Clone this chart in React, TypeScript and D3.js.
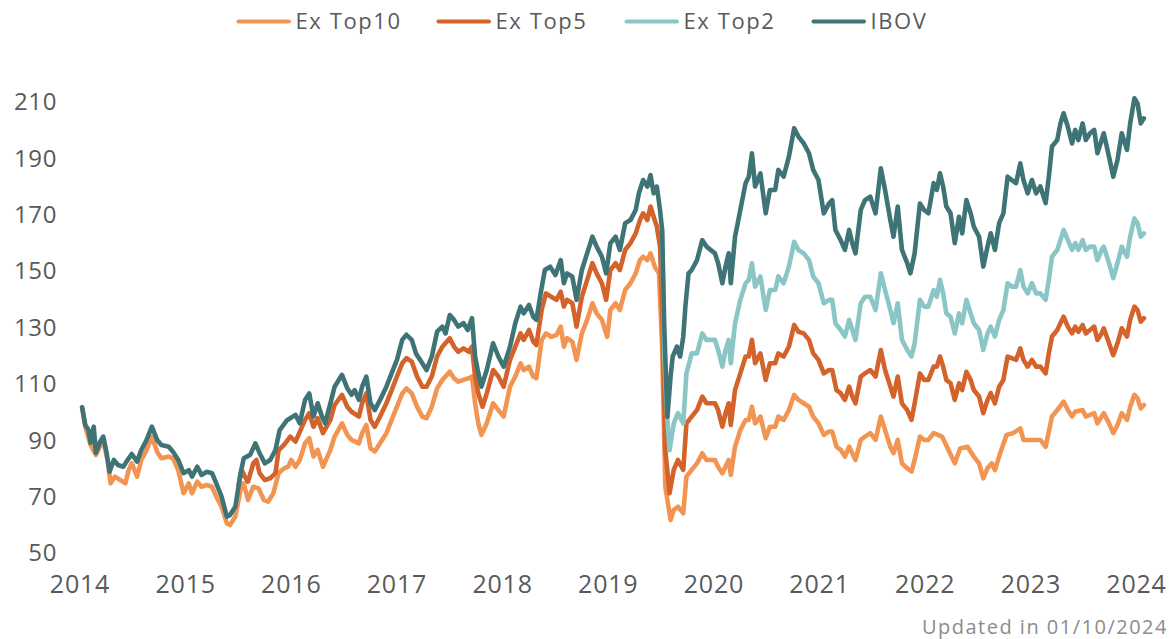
import React, { useEffect } from "react";
import * as d3 from "d3";

// Ex Top10 / Ex Top5 / Ex Top2 / IBOV, base 100
const seriesNames = ["Ex Top10", "Ex Top5", "Ex Top2", "IBOV"];
const seriesColors = ["#F39552", "#D4622B", "#8AC6C5", "#3F7476"];
const yearTicks = [2014, 2015, 2016, 2017, 2018, 2019, 2020, 2021, 2022, 2023, 2024];
const valueTicks = [50, 70, 90, 110, 130, 150, 170, 190, 210];
const updatedNote = "Updated in 01/10/2024";

type Pt = [number, number];

const ibov: Pt[] = [
  [2014.02, 101.6], [2014.05, 95.3], [2014.08, 93.5], [2014.1, 89], [2014.13, 94.7], [2014.15, 85.4],
  [2014.19, 89.4], [2014.22, 91.2], [2014.25, 85.8], [2014.28, 78.7], [2014.32, 82.9], [2014.36, 81.1],
  [2014.41, 80.5], [2014.44, 82.3], [2014.49, 85], [2014.54, 82.3], [2014.58, 86.4], [2014.63, 90],
  [2014.68, 94.7], [2014.73, 90], [2014.77, 88.2], [2014.84, 87.6], [2014.88, 85.8], [2014.93, 82.9],
  [2014.98, 78.2], [2015.03, 79.3], [2015.06, 77], [2015.11, 80.5], [2015.15, 77.6], [2015.2, 78.7],
  [2015.25, 78.2], [2015.29, 74.6], [2015.34, 69.9], [2015.39, 62.8], [2015.42, 63.4], [2015.47, 66.3],
  [2015.52, 78.2], [2015.55, 83.5], [2015.61, 84.7], [2015.66, 88.8], [2015.7, 85.3], [2015.75, 81.7],
  [2015.8, 82.9], [2015.85, 86.4], [2015.89, 93.5], [2015.96, 97], [2016.04, 98.9], [2016.08, 95.9],
  [2016.13, 104.2], [2016.17, 106.5], [2016.21, 98.3], [2016.25, 103], [2016.29, 98.3], [2016.32, 95.9],
  [2016.37, 103], [2016.41, 108.9], [2016.48, 113.1], [2016.53, 108.3], [2016.57, 106], [2016.6, 107.7],
  [2016.64, 104.2], [2016.67, 108.9], [2016.71, 112.5], [2016.75, 103], [2016.79, 100.6], [2016.84, 104.2],
  [2016.9, 108.9], [2016.95, 113.7], [2017.0, 118.4], [2017.05, 125.5], [2017.09, 127.3], [2017.14, 125.5],
  [2017.18, 120.7], [2017.24, 117.2], [2017.28, 114.8], [2017.33, 119.6], [2017.38, 128.4], [2017.43, 130.2],
  [2017.46, 127.8], [2017.5, 134.3], [2017.54, 132.6], [2017.58, 130.2], [2017.63, 131.4], [2017.67, 129],
  [2017.71, 133.2], [2017.74, 119.6], [2017.77, 113.7], [2017.8, 108.9], [2017.85, 114.8], [2017.91, 124.3],
  [2017.96, 119.6], [2018.01, 116], [2018.07, 123.1], [2018.12, 131.4], [2018.17, 137.3], [2018.2, 134.9],
  [2018.25, 137.9], [2018.29, 133.7], [2018.32, 132.6], [2018.36, 142], [2018.4, 150.3], [2018.45, 151.5],
  [2018.5, 148.5], [2018.55, 153.8], [2018.58, 145.6], [2018.61, 149.1], [2018.66, 147.9], [2018.7, 139.7],
  [2018.75, 150.3], [2018.8, 156.2], [2018.85, 162.1], [2018.89, 158.6], [2018.94, 155], [2018.98, 149.1],
  [2019.02, 159.8], [2019.07, 162.1], [2019.11, 157.4], [2019.16, 166.9], [2019.21, 168], [2019.26, 171.6],
  [2019.29, 177.5], [2019.33, 182.2], [2019.37, 179.9], [2019.4, 184], [2019.43, 177.5], [2019.46, 179.9],
  [2019.49, 171.6], [2019.51, 164.5], [2019.53, 130.2], [2019.56, 98.2], [2019.59, 112.5], [2019.61, 119.6],
  [2019.65, 123.1], [2019.68, 119.6], [2019.71, 126.6], [2019.73, 137.3], [2019.76, 149.1], [2019.79, 150.3],
  [2019.84, 153.8], [2019.89, 160.9], [2019.93, 158.6], [2020.01, 156.2], [2020.04, 152.7], [2020.08, 145.6],
  [2020.11, 151.5], [2020.14, 156.2], [2020.16, 145.6], [2020.2, 162.1], [2020.25, 171.6], [2020.3, 181.1],
  [2020.33, 183.4], [2020.36, 191.7], [2020.39, 179.9], [2020.44, 184.6], [2020.49, 170.4], [2020.53, 178.7],
  [2020.58, 178.7], [2020.61, 185.8], [2020.66, 183.4], [2020.71, 190.5], [2020.76, 200.6], [2020.8, 197.6],
  [2020.85, 195.2], [2020.9, 191.7], [2020.94, 185.8], [2020.99, 182.2], [2021.04, 170.4], [2021.09, 173.9],
  [2021.12, 175.1], [2021.15, 164.5], [2021.2, 160.9], [2021.24, 157.4], [2021.28, 164.5], [2021.31, 159.8],
  [2021.34, 156.2], [2021.39, 171.6], [2021.43, 175.1], [2021.48, 176.3], [2021.53, 170.4], [2021.58, 186.4],
  [2021.62, 178.7], [2021.67, 168], [2021.7, 162.1], [2021.74, 172.8], [2021.78, 157.4], [2021.83, 152.7],
  [2021.86, 149.1], [2021.9, 156.2], [2021.95, 173.9], [2021.99, 171.6], [2022.03, 170.4], [2022.08, 181.1],
  [2022.11, 178.7], [2022.14, 184.6], [2022.17, 179.9], [2022.2, 172.8], [2022.24, 170.4], [2022.28, 159.8],
  [2022.32, 169.2], [2022.35, 163.3], [2022.39, 175.1], [2022.43, 170.4], [2022.46, 165.7], [2022.51, 162.1],
  [2022.55, 151.5], [2022.59, 158.6], [2022.62, 163.3], [2022.66, 157.4], [2022.7, 166.9], [2022.74, 170.4],
  [2022.78, 183.4], [2022.82, 182.2], [2022.86, 181.1], [2022.9, 188.1], [2022.93, 182.2], [2022.97, 177.5],
  [2023.01, 182.2], [2023.05, 177.5], [2023.09, 179.9], [2023.14, 174], [2023.17, 183.4], [2023.2, 194.1],
  [2023.25, 196.4], [2023.28, 202.3], [2023.31, 205.9], [2023.35, 201.1], [2023.39, 195.2], [2023.42, 200],
  [2023.45, 196.4], [2023.49, 202.3], [2023.52, 196.4], [2023.56, 198.8], [2023.6, 200], [2023.63, 191.7],
  [2023.67, 196.4], [2023.69, 198.8], [2023.74, 190.5], [2023.78, 183.4], [2023.82, 189.3], [2023.86, 198.8],
  [2023.91, 192.9], [2023.94, 202.3], [2023.98, 211.2], [2024.01, 209.4], [2024.04, 202.3], [2024.07, 204.1],
];

const exTop2: Pt[] = [
  [2019.51, 164.5], [2019.53, 120], [2019.56, 97.1], [2019.58, 86.4], [2019.62, 95.9], [2019.66, 99.5],
  [2019.71, 95.9], [2019.74, 113.6], [2019.79, 120.7], [2019.84, 120.7], [2019.89, 127.8], [2019.93, 125.5],
  [2020.01, 125.5], [2020.04, 121.9], [2020.08, 116], [2020.11, 121.9], [2020.14, 125.5], [2020.16, 117.2],
  [2020.2, 131.4], [2020.25, 139.7], [2020.3, 145.6], [2020.33, 146.8], [2020.36, 152.7], [2020.39, 144.4],
  [2020.44, 148], [2020.49, 136.1], [2020.53, 143.2], [2020.58, 143.2], [2020.61, 148], [2020.66, 145.6],
  [2020.71, 151.5], [2020.76, 160.3], [2020.8, 157.4], [2020.85, 156.2], [2020.9, 153.8], [2020.94, 148],
  [2020.99, 145.6], [2021.04, 138.5], [2021.09, 139.7], [2021.12, 139.7], [2021.15, 131.4], [2021.2, 129],
  [2021.24, 126.7], [2021.28, 132.6], [2021.31, 129], [2021.34, 125.5], [2021.39, 138.5], [2021.43, 140.8],
  [2021.48, 140.8], [2021.53, 136.1], [2021.58, 149.1], [2021.62, 143.2], [2021.67, 136.1], [2021.7, 131.4],
  [2021.74, 138.5], [2021.78, 125.5], [2021.83, 121.9], [2021.87, 119.6], [2021.9, 124.3], [2021.95, 139.7],
  [2021.99, 137.3], [2022.03, 137.3], [2022.08, 143.2], [2022.11, 140.8], [2022.14, 146.8], [2022.17, 142],
  [2022.2, 134.9], [2022.24, 133.7], [2022.28, 127.8], [2022.32, 134.9], [2022.35, 131.4], [2022.39, 139.7],
  [2022.43, 134.9], [2022.46, 131.4], [2022.51, 129], [2022.55, 121.9], [2022.59, 127.8], [2022.62, 130.2],
  [2022.66, 126.7], [2022.7, 132.6], [2022.74, 136.1], [2022.78, 145.6], [2022.82, 144.4], [2022.86, 144.4],
  [2022.9, 150.3], [2022.93, 144.4], [2022.97, 142], [2023.01, 145.6], [2023.05, 142], [2023.09, 142],
  [2023.14, 139.7], [2023.17, 146.8], [2023.2, 155], [2023.25, 157.4], [2023.28, 160.9], [2023.31, 164.5],
  [2023.35, 160.9], [2023.39, 157.4], [2023.42, 159.8], [2023.45, 157.4], [2023.49, 160.9], [2023.52, 157.4],
  [2023.56, 158.6], [2023.6, 158.6], [2023.63, 153.8], [2023.67, 157.4], [2023.69, 158.6], [2023.74, 152.7],
  [2023.78, 147.4], [2023.82, 152.7], [2023.86, 158.6], [2023.91, 155], [2023.94, 162.1], [2023.98, 168.6],
  [2024.01, 166.9], [2024.04, 162.1], [2024.07, 163.3],
];

const exTop5: Pt[] = [
  [2015.5, 74], [2015.53, 79.3], [2015.56, 77], [2015.59, 75.2], [2015.64, 81.7], [2015.67, 82.9],
  [2015.7, 78.2], [2015.75, 75.8], [2015.8, 76.4], [2015.85, 78.2], [2015.88, 86.4], [2015.93, 88.2],
  [2015.99, 91.2], [2016.04, 89.4], [2016.13, 97.1], [2016.17, 99.5], [2016.21, 94.7], [2016.25, 97.7],
  [2016.3, 92.4], [2016.37, 97.1], [2016.41, 102.4], [2016.48, 106], [2016.53, 101.8], [2016.57, 100],
  [2016.64, 98.3], [2016.67, 103], [2016.71, 106.5], [2016.75, 97.1], [2016.79, 94.7], [2016.84, 98.3],
  [2016.9, 103], [2016.95, 107.7], [2017.0, 112.5], [2017.05, 117.2], [2017.09, 119], [2017.14, 117.8],
  [2017.19, 112.5], [2017.24, 108.9], [2017.28, 108.9], [2017.33, 112.5], [2017.38, 119.6], [2017.43, 123.1],
  [2017.5, 126.1], [2017.54, 123.1], [2017.58, 121.3], [2017.63, 122.5], [2017.68, 121.3], [2017.71, 123.1],
  [2017.74, 112.5], [2017.77, 106.5], [2017.81, 101.8], [2017.85, 106.5], [2017.91, 114.8], [2017.96, 112.5],
  [2018.01, 108.9], [2018.07, 118.4], [2018.12, 123.1], [2018.17, 127.8], [2018.2, 125.5], [2018.25, 129],
  [2018.29, 124.9], [2018.32, 123.7], [2018.37, 136.1], [2018.41, 142], [2018.46, 140.8], [2018.51, 139.7],
  [2018.55, 142.6], [2018.58, 137.3], [2018.61, 139.7], [2018.66, 138.5], [2018.7, 130.2], [2018.75, 140.8],
  [2018.8, 146.7], [2018.85, 152.7], [2018.89, 149.1], [2018.94, 145.6], [2018.98, 139.7], [2019.02, 150.3],
  [2019.07, 152.7], [2019.11, 150.3], [2019.16, 157.4], [2019.21, 159.8], [2019.26, 163.3], [2019.3, 168],
  [2019.33, 170.4], [2019.37, 168], [2019.4, 172.8], [2019.44, 168], [2019.46, 165.7], [2019.49, 158.6],
  [2019.51, 136.1], [2019.54, 86.4], [2019.58, 71.1], [2019.62, 79.4], [2019.66, 82.9], [2019.71, 79.4],
  [2019.74, 95.9], [2019.79, 98.3], [2019.84, 100.6], [2019.89, 105.4], [2019.93, 103], [2020.01, 103],
  [2020.04, 100.6], [2020.08, 94.7], [2020.11, 99.5], [2020.14, 103], [2020.16, 95.3], [2020.2, 107.7],
  [2020.25, 113.6], [2020.3, 119.6], [2020.33, 119.6], [2020.36, 125.5], [2020.39, 117.2], [2020.44, 120.7],
  [2020.49, 111.3], [2020.53, 117.2], [2020.58, 117.2], [2020.61, 120.7], [2020.66, 119.6], [2020.71, 123.1],
  [2020.76, 130.8], [2020.8, 128.4], [2020.85, 127.8], [2020.9, 125.5], [2020.94, 120.7], [2020.99, 118.4],
  [2021.04, 113.6], [2021.09, 114.8], [2021.12, 114.8], [2021.16, 107.7], [2021.2, 106.6], [2021.24, 104.2],
  [2021.28, 108.9], [2021.31, 105.4], [2021.34, 103], [2021.39, 112.5], [2021.43, 113.6], [2021.48, 114.8],
  [2021.53, 112.5], [2021.58, 121.9], [2021.62, 114.8], [2021.67, 108.9], [2021.7, 105.4], [2021.74, 112.5],
  [2021.78, 103], [2021.83, 100.6], [2021.87, 97.1], [2021.9, 103], [2021.95, 113.6], [2021.99, 111.3],
  [2022.03, 111.3], [2022.08, 116], [2022.11, 116], [2022.14, 119.6], [2022.17, 116], [2022.2, 111.3],
  [2022.24, 110.1], [2022.28, 104.2], [2022.32, 110.1], [2022.35, 107.7], [2022.39, 114.2], [2022.43, 111.3],
  [2022.46, 107.7], [2022.51, 105.4], [2022.55, 99.5], [2022.59, 104.2], [2022.62, 106.6], [2022.66, 103],
  [2022.7, 108.9], [2022.74, 111.3], [2022.78, 119.6], [2022.82, 119], [2022.86, 118.4], [2022.9, 122.5],
  [2022.93, 118.4], [2022.97, 116], [2023.01, 118.4], [2023.05, 116], [2023.09, 116], [2023.14, 113.6],
  [2023.17, 120.7], [2023.2, 126.7], [2023.25, 129], [2023.28, 131.4], [2023.31, 133.7], [2023.35, 130.2],
  [2023.39, 127.8], [2023.42, 130.2], [2023.45, 128.4], [2023.49, 130.8], [2023.52, 127.8], [2023.56, 129],
  [2023.6, 130.2], [2023.63, 125.5], [2023.67, 127.8], [2023.69, 129.6], [2023.74, 124.3], [2023.78, 120.1],
  [2023.82, 124.3], [2023.86, 129.6], [2023.91, 126.7], [2023.94, 132.6], [2023.98, 137.3], [2024.01, 136.1],
  [2024.04, 132], [2024.07, 133.2],
];

const exTop10: Pt[] = [
  [2014.02, 101.6], [2014.05, 94.7], [2014.1, 88.2], [2014.15, 84.7], [2014.22, 90], [2014.26, 82.9],
  [2014.29, 74.6], [2014.33, 77], [2014.38, 75.8], [2014.43, 74.6], [2014.46, 79.3], [2014.49, 81.7],
  [2014.54, 77], [2014.58, 82.9], [2014.63, 86.4], [2014.68, 91.2], [2014.73, 85.8], [2014.77, 83.5],
  [2014.84, 84.1], [2014.88, 83.5], [2014.93, 79.3], [2014.98, 71.1], [2015.03, 74.6], [2015.06, 71.1],
  [2015.11, 75.2], [2015.15, 73.4], [2015.2, 74], [2015.25, 73.4], [2015.29, 69.9], [2015.34, 66.3],
  [2015.39, 60.4], [2015.42, 59.8], [2015.47, 62.8], [2015.52, 72.3], [2015.55, 74.6], [2015.59, 68.7],
  [2015.64, 73.4], [2015.69, 72.8], [2015.74, 68.7], [2015.78, 68.1], [2015.83, 71.1], [2015.88, 78.2],
  [2015.93, 79.9], [2015.97, 80.5], [2016.0, 82.9], [2016.04, 80.5], [2016.08, 82.9], [2016.13, 88.8],
  [2016.17, 90.6], [2016.21, 84.1], [2016.25, 86.5], [2016.3, 80.5], [2016.37, 86.5], [2016.41, 91.2],
  [2016.48, 95.9], [2016.53, 91.8], [2016.57, 90], [2016.64, 88.8], [2016.67, 92.4], [2016.71, 95.3],
  [2016.75, 87], [2016.79, 85.9], [2016.84, 88.8], [2016.9, 92.4], [2016.95, 97.1], [2017.0, 101.8],
  [2017.05, 106.5], [2017.09, 108.3], [2017.14, 106.5], [2017.19, 101.8], [2017.24, 98.3], [2017.28, 97.7],
  [2017.33, 101.8], [2017.38, 108.3], [2017.43, 111.3], [2017.5, 114.2], [2017.54, 111.9], [2017.58, 110.7],
  [2017.63, 111.3], [2017.68, 111.9], [2017.71, 112.5], [2017.74, 103], [2017.77, 95.9], [2017.8, 91.8],
  [2017.85, 95.9], [2017.91, 103], [2017.96, 100.6], [2018.01, 98.3], [2018.07, 108.9], [2018.12, 112.5],
  [2018.17, 117.2], [2018.2, 114.8], [2018.25, 116], [2018.29, 112.5], [2018.32, 111.9], [2018.37, 125.5],
  [2018.41, 127.8], [2018.46, 126.6], [2018.51, 127.2], [2018.55, 130.2], [2018.58, 123.1], [2018.61, 126.1],
  [2018.66, 124.9], [2018.7, 118.4], [2018.75, 127.8], [2018.8, 132.6], [2018.85, 138.5], [2018.89, 134.9],
  [2018.94, 132.6], [2018.99, 126.6], [2019.02, 136.1], [2019.07, 138.5], [2019.11, 136.1], [2019.16, 143.2],
  [2019.21, 145.6], [2019.26, 149.1], [2019.3, 153.8], [2019.33, 155], [2019.37, 153.8], [2019.4, 156.2],
  [2019.44, 151.5], [2019.48, 149.1], [2019.51, 123.1], [2019.54, 73.4], [2019.59, 61.6], [2019.62, 65.2],
  [2019.66, 66.3], [2019.71, 64], [2019.74, 77], [2019.79, 79.4], [2019.84, 81.7], [2019.89, 85.3],
  [2019.93, 82.9], [2020.01, 82.9], [2020.04, 80.5], [2020.08, 78.2], [2020.11, 80.5], [2020.14, 82.9],
  [2020.16, 77.6], [2020.2, 87.6], [2020.25, 93.5], [2020.3, 97.1], [2020.33, 97.1], [2020.36, 101.8],
  [2020.39, 95.9], [2020.44, 98.3], [2020.49, 90.6], [2020.53, 94.7], [2020.58, 94.7], [2020.61, 98.3],
  [2020.66, 97.1], [2020.71, 100.6], [2020.76, 106], [2020.8, 104.2], [2020.85, 103], [2020.9, 101.8],
  [2020.94, 98.3], [2020.99, 95.9], [2021.04, 91.8], [2021.09, 93], [2021.12, 93], [2021.16, 87.6],
  [2021.2, 86.5], [2021.24, 84.1], [2021.28, 87.6], [2021.31, 85.3], [2021.34, 82.9], [2021.39, 90],
  [2021.43, 91.2], [2021.48, 92.4], [2021.53, 90], [2021.58, 98.3], [2021.62, 93.5], [2021.67, 87.6],
  [2021.7, 85.3], [2021.74, 90], [2021.78, 81.7], [2021.83, 79.9], [2021.87, 78.8], [2021.9, 82.9],
  [2021.95, 91.2], [2021.99, 90], [2022.03, 90], [2022.08, 92.4], [2022.16, 91.2], [2022.22, 86.4],
  [2022.28, 81.7], [2022.33, 87], [2022.4, 87.6], [2022.46, 84.1], [2022.51, 81.7], [2022.55, 76.4],
  [2022.59, 80], [2022.63, 81.7], [2022.66, 79.3], [2022.71, 85.4], [2022.77, 91.8], [2022.83, 92.4],
  [2022.9, 94.1], [2022.93, 90], [2023.01, 90], [2023.09, 90], [2023.14, 87.6], [2023.2, 98.3],
  [2023.25, 100.6], [2023.31, 103.6], [2023.35, 100.6], [2023.39, 98.3], [2023.42, 100], [2023.49, 100.6],
  [2023.52, 98.3], [2023.6, 99.5], [2023.63, 95.9], [2023.69, 99.5], [2023.74, 95.9], [2023.78, 92.4],
  [2023.82, 95.3], [2023.86, 99.5], [2023.91, 97.1], [2023.94, 101.8], [2023.98, 106], [2024.01, 104.8],
  [2024.04, 101.2], [2024.07, 102.4],
];

const seriesData = [exTop10, exTop5, exTop2, ibov];

const W = 1173;
const H = 639;
const FONT = "'Open Sans', Lato, sans-serif";
const TEXT = "#595959";

export default function App() {
  useEffect(() => {
    document.body.style.margin = "0";
  }, []);

  const x = d3.scaleLinear().domain([2014, 2024]).range([80, 1136.5]);
  const y = d3.scaleLinear().domain([50, 210]).range([552.7, 101.7]);
  const line = d3
    .line<Pt>()
    .x((d) => x(d[0]))
    .y((d) => y(d[1]));

  // legend slots: sample line start
  const legendX = [237, 437, 625, 812];

  return (
    <svg width={W} height={H} style={{ display: "block", background: "#fff" }} fontFamily={FONT}>
      <g>
        {seriesNames.map((name, i) => (
          <g key={name} transform={`translate(${legendX[i]},21.5)`}>
            <line x1={1.5} x2={52} y1={0} y2={0} stroke={seriesColors[i]} strokeWidth={4} strokeLinecap="round" />
            <text x={58.5} y={0} dy="0.35em" fontSize={22} letterSpacing={1.6} fill={TEXT}>
              {name}
            </text>
          </g>
        ))}
      </g>

      <g>
        {valueTicks.map((v) => (
          <text key={v} x={57} y={y(v)} dy="0.36em" textAnchor="end" fontSize={24} letterSpacing={0.6} fill={TEXT}>
            {v}
          </text>
        ))}
      </g>

      <g>
        {yearTicks.map((yr) => (
          <text key={yr} x={x(yr)} y={584} dy="0.36em" textAnchor="middle" fontSize={25} letterSpacing={0.8} fill={TEXT}>
            {yr}
          </text>
        ))}
      </g>

      <g fill="none" strokeLinejoin="round" strokeLinecap="round">
        {seriesData.map((d, i) => (
          <path key={seriesNames[i]} d={line(d) ?? ""} stroke={seriesColors[i]} strokeWidth={4.6} />
        ))}
      </g>

      <text x={1168} y={627} dy="0.36em" textAnchor="end" fontSize={20} letterSpacing={1.5} fill="#8c8c8c">
        {updatedNote}
      </text>
    </svg>
  );
}
